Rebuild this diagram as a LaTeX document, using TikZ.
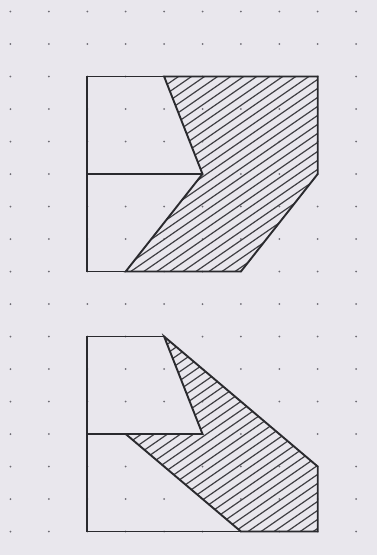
\documentclass[tikz,border=0pt]{standalone}
\definecolor{paper}{HTML}{E9E7ED}
\definecolor{ink}{HTML}{2A2A2E}
\definecolor{dotc}{HTML}{6E6C74}
\tikzset{
  outline/.style={draw=ink,line width=1.9bp,line join=miter},
  hatchline/.style={draw=ink!90,line width=1.2bp},
  griddot/.style={fill=dotc,draw=none},
}
\begin{document}
\begin{tikzpicture}[x=38.4bp,y=-32.5bp]
% page with its margins
\fill[paper] (-0.2734,-0.3538) rectangle (9.5443,16.7231);
\useasboundingbox (-0.2734,-0.3538) rectangle (9.5443,16.7231);
% dot grid
\foreach \i in {0,...,9}
  \foreach \j in {0,...,16}
    \fill[griddot] (\i,\j) circle[radius=1bp];

% ---------- top figure ----------
\coordinate (A1) at (4,2);
\coordinate (A2) at (8,2);
\coordinate (A3) at (8,5);
\coordinate (A4) at (6,8);
\coordinate (A5) at (3,8);
\coordinate (A6) at (5,5);
\begin{scope}
  \clip (A1) -- (A2) -- (A3) -- (A4) -- (A5) -- (A6) -- cycle;
  \foreach \k in {0,...,45}
    \draw[hatchline] ([yshift=-\k*9bp]2,2) -- ++(320bp,221bp);
\end{scope}
\draw[outline] (A1) -- (A2) -- (A3) -- (A4) -- (A5) -- (A6) -- cycle;
\draw[outline] (A5) -- (2,8) -- (2,2) -- (A1);
\draw[outline] (2,5) -- (A6);

% ---------- bottom figure ----------
\coordinate (B1) at (4,10);
\coordinate (B2) at (8,14);
\coordinate (B3) at (8,16);
\coordinate (B4) at (6,16);
\coordinate (B5) at (3,13);
\coordinate (B6) at (5,13);
\begin{scope}
  \clip (B1) -- (B2) -- (B3) -- (B4) -- (B5) -- (B6) -- cycle;
  \foreach \k in {0,...,45}
    \draw[hatchline] ([yshift=-\k*9bp]2,10) -- ++(320bp,221bp);
\end{scope}
\draw[outline] (B1) -- (B2) -- (B3) -- (B4) -- (B5) -- (B6) -- cycle;
\draw[outline] (B4) -- (2,16) -- (2,10) -- (B1);
\draw[outline] (2,13) -- (B6);
\end{tikzpicture}
\end{document}
